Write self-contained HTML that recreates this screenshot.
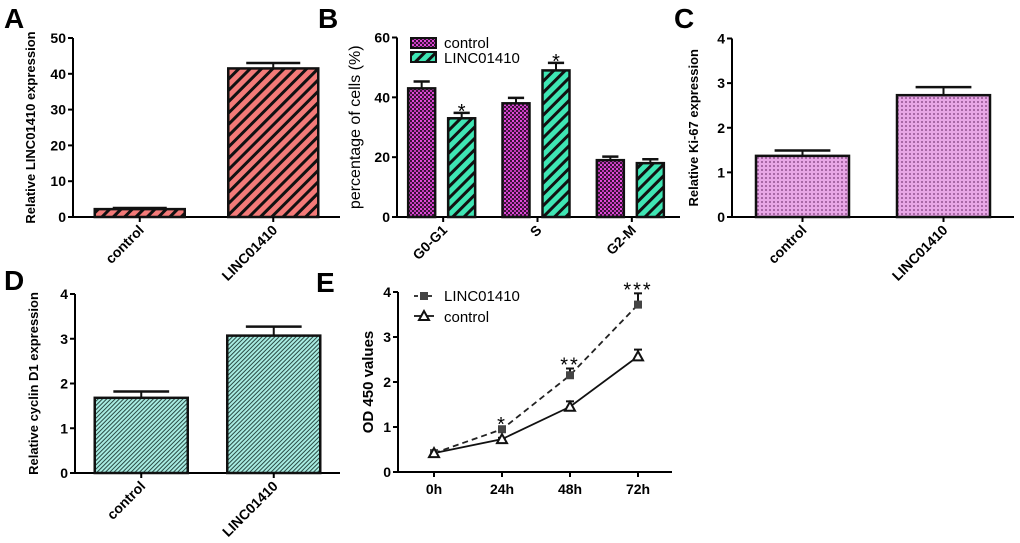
<!DOCTYPE html>
<html><head><meta charset="utf-8"><style>
body{margin:0;background:#fff}
svg{display:block;font-family:"Liberation Sans",Arial,sans-serif}
.t{font-size:14px;font-weight:bold}
.ttl{font-size:13px;font-weight:bold}
.lt{font-size:28px;font-weight:bold}
</style></head><body>
<svg id="fig" width="1020" height="543" viewBox="0 0 1020 543">
<defs>
<pattern id="pA" width="8" height="8" patternUnits="userSpaceOnUse" patternTransform="rotate(45)"><rect width="8" height="8" fill="#f47a78"/><rect width="3" height="8" fill="#111"/></pattern>
<pattern id="pG" width="8" height="8" patternUnits="userSpaceOnUse" patternTransform="rotate(45)"><rect width="8" height="8" fill="#3fe6b4"/><rect width="3" height="8" fill="#111"/></pattern>
<pattern id="pM" width="4" height="4" patternUnits="userSpaceOnUse"><rect width="4" height="4" fill="#3a1038"/><rect width="2" height="2" fill="#e04ad8"/><rect x="2" y="2" width="2" height="2" fill="#c03ab8"/></pattern>
<pattern id="pC" width="4" height="4" patternUnits="userSpaceOnUse"><rect width="4" height="4" fill="#e8a6e6"/><circle cx="2" cy="2" r="0.9" fill="#7a3a78"/></pattern>
<pattern id="pD" width="3" height="3" patternUnits="userSpaceOnUse" patternTransform="rotate(45)"><rect width="3" height="3" fill="#a8ece2"/><rect width="1" height="3" fill="#2a4a44"/></pattern>
</defs>
<text class="lt" x="4" y="28">A</text>
<text class="lt" x="318" y="28">B</text>
<text class="lt" x="674" y="28">C</text>
<text class="lt" x="4" y="290">D</text>
<text class="lt" x="316" y="292">E</text>
</svg>
<script>
const aCats=["control","LINC01410"], aVals=[2.2,41.5], aErr=[0.3,1.5], aTicks=[0,10,20,30,40,50];
const bCats=["G0-G1","S","G2-M"], bCtrl=[43,38,19], bCtrlErr=[2.3,1.8,1.2], bLinc=[33,49,18], bLincErr=[1.8,2.5,1.3], bTicks=[0,20,40,60];
const cCats=["control","LINC01410"], cVals=[1.37,2.73], cErr=[0.12,0.18], cTicks=[0,1,2,3,4];
const dCats=["control","LINC01410"], dVals=[1.68,3.07], dErr=[0.14,0.2], dTicks=[0,1,2,3,4];
const eCats=["0h","24h","48h","72h"], eLinc=[0.42,0.95,2.15,3.72], eLincErr=[0.03,0.03,0.15,0.25], eCtrl=[0.42,0.73,1.45,2.57], eCtrlErr=[0.03,0.03,0.12,0.15], eTicks=[0,1,2,3,4], eStars=["","*","**","***"];
const svg=document.getElementById('fig');const NS="http://www.w3.org/2000/svg";
function mk(t,a,p){const e=document.createElementNS(NS,t);for(const k in a)e.setAttribute(k,a[k]);(p||svg).appendChild(e);return e;}
function axes(o,name){
 const ys=v=>o.y0-(v-o.min)/(o.max-o.min)*(o.y0-o.y1);
 const l=mk('line',{x1:o.x0,y1:o.y0,x2:o.x0,y2:o.y1,stroke:'#000','stroke-width':2});
 
 
 const b=mk('line',{x1:o.x0,y1:o.y0,x2:o.xEnd,y2:o.y0,stroke:'#000','stroke-width':2});
 
 
 o.ticks.forEach(v=>{const y=ys(v);mk('line',{x1:o.x0-5,y1:y,x2:o.x0,y2:y,stroke:'#000','stroke-width':2});
  const t=mk('text',{x:o.x0-7,y:y+5,'text-anchor':'end',class:'t'});t.textContent=v;
  
  });
 const cy=(o.y0+o.y1)/2;const tt=mk('text',{x:o.tx,y:cy,transform:`rotate(-90 ${o.tx} ${cy})`,'text-anchor':'middle',class:'ttl',style:o.tstyle||''});tt.textContent=o.title;
 
 
 return ys;}
function bar(x,w,v,e,ys,fill,name){
 const y=ys(v);
 mk('line',{x1:x+w/2,y1:y,x2:x+w/2,y2:ys(v+e),stroke:'#111','stroke-width':2});
 mk('line',{x1:x+w/2-w*0.3,y1:ys(v+e),x2:x+w/2+w*0.3,y2:ys(v+e),stroke:'#111','stroke-width':2.5});
 const r=mk('rect',{x:x,y:y,width:w,height:ys(0)-y,fill:fill,stroke:'#111','stroke-width':2.5});
 
 }
function xlab(x,y,txt,name,rot){const t=mk('text',{x:x,y:y,'text-anchor':rot?'end':'middle',class:'t',transform:rot?`rotate(-45 ${x} ${y})`:''});t.textContent=txt;
 
 }
function simple(cats,vals,err,ticks,o,fill,name){
 const ys=axes(o,name);const n=cats.length;const step=(o.xEnd-o.x0)/n;const w=o.bw;
 cats.forEach((c,i)=>{const cx=o.x0+step*(i+0.5);bar(cx-w/2,w,vals[i],err[i],ys,fill,name+'-bar-'+c.toLowerCase());
  mk('line',{x1:cx,y1:o.y0,x2:cx,y2:o.y0+5,stroke:'#000','stroke-width':2});
  xlab(cx+5,o.y0+14,c,name+'-x-label',true);});}
simple(aCats,aVals,aErr,aTicks,{x0:73,y0:217,y1:38,xEnd:340,min:0,max:50,ticks:aTicks,tx:35,title:"Relative LINC01410 expression",bw:90},'url(#pA)','panel-a');
simple(cCats,cVals,cErr,cTicks,{x0:732,y0:217,y1:38.5,xEnd:1014,min:0,max:4,ticks:cTicks,tx:698,title:"Relative Ki-67 expression",bw:93},'url(#pC)','panel-c');
simple(dCats,dVals,dErr,dTicks,{x0:75,y0:473,y1:294,xEnd:340,min:0,max:4,ticks:dTicks,tx:38,title:"Relative cyclin D1 expression",bw:93},'url(#pD)','panel-d');
// B
(function(){const o={x0:397,y0:217,y1:37.5,xEnd:680,min:0,max:60,ticks:bTicks,tx:360,title:"percentage of cells (%)",tstyle:"font-size:16px;font-weight:normal"};
 const ys=axes(o,'panel-b');const step=(o.xEnd-o.x0)/3;const w=27;
 bCats.forEach((c,i)=>{const cx=o.x0+step*(i+0.5)-1;
  bar(cx-w-8,w,bCtrl[i],bCtrlErr[i],ys,'url(#pM)','panel-b-bar-control-'+c);
  bar(cx+5,w,bLinc[i],bLincErr[i],ys,'url(#pG)','panel-b-bar-linc-'+c);
  mk('line',{x1:cx,y1:o.y0,x2:cx,y2:o.y0+5,stroke:'#000','stroke-width':2});
  xlab(cx+5,o.y0+14,c,'panel-b-x-label',true);});
 [0,1].forEach(i=>{const v=bLinc[i]+bLincErr[i];const cx=o.x0+step*(i+0.5)-1+5+w/2;
  const s=mk('text',{x:cx,y:ys(v)+5,'text-anchor':'middle','font-size':'20px'});s.textContent='*';
  
  });
 const g1=mk('rect',{x:411,y:38,width:25,height:10,fill:'url(#pM)',stroke:'#111','stroke-width':2});
 
 
 const g2=mk('rect',{x:411,y:52,width:25,height:10,fill:'url(#pG)',stroke:'#111','stroke-width':2});
 
 
 const l1=mk('text',{x:444,y:48,'font-size':'15px'});l1.textContent='control';
 
 
 const l2=mk('text',{x:444,y:63,'font-size':'15px'});l2.textContent='LINC01410';
 
 
})();
// E
(function(){const o={x0:398,y0:472,y1:292,xEnd:672,min:0,max:4,ticks:eTicks,tx:373,title:"OD 450 values",tstyle:"font-size:15px"};
 const ys=axes(o,'panel-e');const xs=i=>434+i*68;
 eCats.forEach((c,i)=>{mk('line',{x1:xs(i),y1:o.y0,x2:xs(i),y2:o.y0+5,stroke:'#000','stroke-width':2});xlab(xs(i),o.y0+22,c,'panel-e-x-label',false);});
 const pl=mk('polyline',{points:eLinc.map((v,i)=>xs(i)+','+ys(v)).join(' '),fill:'none',stroke:'#222','stroke-width':1.8,'stroke-dasharray':'6,4'});
 
 
 const pc=mk('polyline',{points:eCtrl.map((v,i)=>xs(i)+','+ys(v)).join(' '),fill:'none',stroke:'#111','stroke-width':1.8});
 
 
 eCats.forEach((c,i)=>{
  [[eLinc,eLincErr],[eCtrl,eCtrlErr]].forEach(([a,e])=>{const x=xs(i);mk('line',{x1:x,y1:ys(a[i]),x2:x,y2:ys(a[i]+e[i]),stroke:'#111','stroke-width':2});mk('line',{x1:x-4,y1:ys(a[i]+e[i]),x2:x+4,y2:ys(a[i]+e[i]),stroke:'#111','stroke-width':2});});
  const sq=mk('rect',{x:xs(i)-4,y:ys(eLinc[i])-4,width:8,height:8,fill:'#444'});
  
  
  const y=ys(eCtrl[i]);const tr=mk('polygon',{points:`${xs(i)},${y-5} ${xs(i)-5},${y+4} ${xs(i)+5},${y+4}`,fill:'#fff',stroke:'#111','stroke-width':2});
  
  
  if(eStars[i]){const s=mk('text',{x:xs(i),y:ys(eLinc[i]+eLincErr[i])+3,'text-anchor':'middle','font-size':'20px','letter-spacing':'2px'});s.textContent=eStars[i];
   
   }
 });
 mk('line',{x1:414,y1:296,x2:434,y2:296,stroke:'#222','stroke-width':1.8,'stroke-dasharray':'4,3'});mk('rect',{x:420,y:292,width:8,height:8,fill:'#444'});
 mk('line',{x1:414,y1:316,x2:434,y2:316,stroke:'#111','stroke-width':1.8});mk('polygon',{points:'424,311 419,320 429,320',fill:'#fff',stroke:'#111','stroke-width':2});
 const l1=mk('text',{x:444,y:301,'font-size':'15px'});l1.textContent='LINC01410';
 
 
 const l2=mk('text',{x:444,y:322,'font-size':'15px'});l2.textContent='control';
 
 
})();
</script>
</body></html>
